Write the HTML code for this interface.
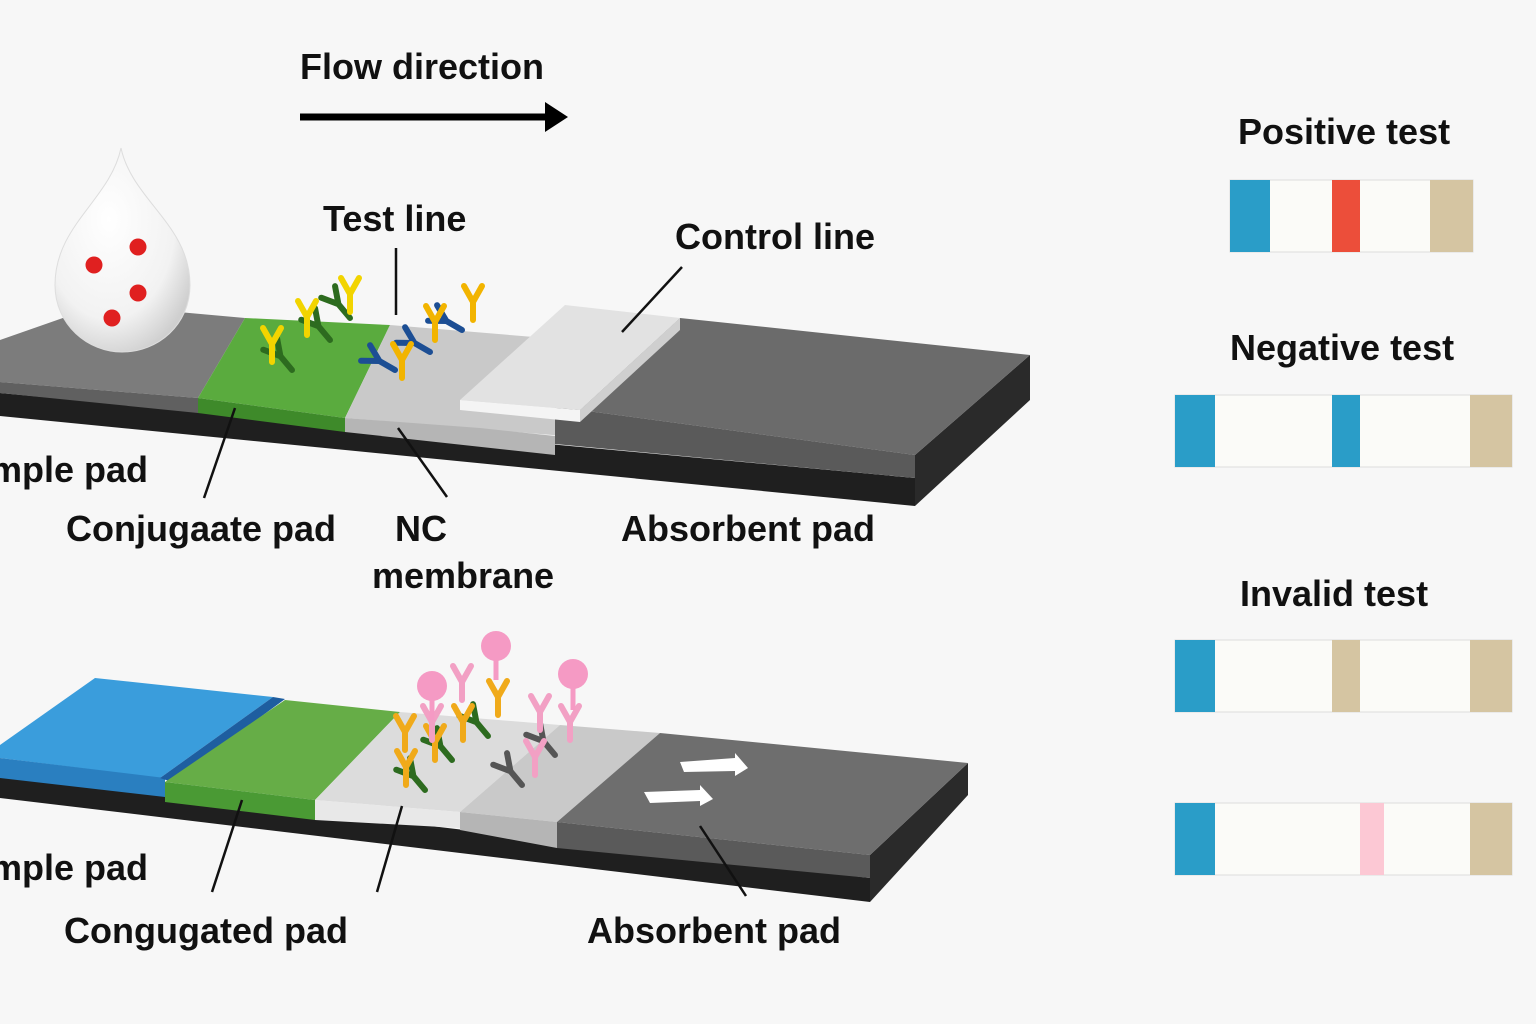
<!DOCTYPE html>
<html><head><meta charset="utf-8"><style>
html,body{margin:0;padding:0;background:#f7f7f7}
svg{display:block}
text{font-family:"Liberation Sans",sans-serif;font-weight:bold;fill:#111}
</style></head><body>
<svg width="1536" height="1024" viewBox="0 0 1536 1024">
<defs>
<radialGradient id="dropg" cx="0.4" cy="0.35" r="0.7"><stop offset="0" stop-color="#ffffff"/><stop offset="0.7" stop-color="#f2f2f2"/><stop offset="1" stop-color="#cfcfcf"/></radialGradient>
<g id="ab"><path d="M0 0 V-18 M0 -18 L-9 -34 M0 -18 L9 -34" fill="none" stroke-width="6" stroke-linecap="round"/></g>
</defs>
<rect width="1536" height="1024" fill="#f7f7f7"/>

<g>
<text x="300" y="79" font-size="36">Flow direction</text>
<line x1="300" y1="117" x2="545" y2="117" stroke="#000" stroke-width="7"/>
<polygon points="545,102 568,117 545,132" fill="#000"/>
</g>

<g>
<polygon points="0,393 915,478 915,506 0,416" fill="#1f1f1f"/>
<polygon points="915,455 1030,355 1030,400 915,506" fill="#2a2a2a"/>
<polygon points="0,340 100,305 245,318 198,398 0,382" fill="#7c7c7c"/>
<polygon points="0,382 198,398 198,413 0,393" fill="#606060"/>
<polygon points="198,398 245,318 390,325 345,418" fill="#5aab3e"/>
<polygon points="198,398 345,418 345,432 198,413" fill="#3e8a2a"/>
<polygon points="345,418 390,325 570,340 565,436" fill="#c9c9c9"/>
<polygon points="345,418 480,428 555,436 555,455 345,432" fill="#b5b5b5"/>
<polygon points="580,410 680,318 1030,355 915,455" fill="#6b6b6b"/>
<polygon points="555,407 580,410 915,455 915,478 555,444" fill="#5a5a5a"/>
<polygon points="460,400 565,305 680,318 580,410" fill="#e2e2e2"/>
<polygon points="460,400 580,410 580,422 460,410" fill="#f4f4f4"/>
<polygon points="580,410 680,318 680,330 580,422" fill="#cfcfcf"/>
</g>

<g>
<path d="M121 148 C110 200 55 225 55 285 C55 325 88 352 122 352 C158 352 190 325 190 285 C190 225 132 200 121 148 Z" fill="url(#dropg)" stroke="#ddd"/>
<circle cx="138" cy="247" r="8.5" fill="#e02020"/><circle cx="94" cy="265" r="8.5" fill="#e02020"/>
<circle cx="138" cy="293" r="8.5" fill="#e02020"/><circle cx="112" cy="318" r="8.5" fill="#e02020"/>
</g>

<g>
<g stroke="#2d6b1f"><use href="#ab" transform="translate(292,370) rotate(-40)"/><use href="#ab" transform="translate(330,340) rotate(-40)"/><use href="#ab" transform="translate(350,318) rotate(-40)"/></g>
<g stroke="#f2d400"><use href="#ab" transform="translate(272,362)"/><use href="#ab" transform="translate(307,335)"/><use href="#ab" transform="translate(350,312)"/></g>
<g stroke="#1c4e94"><use href="#ab" transform="translate(395,370) rotate(-60)"/><use href="#ab" transform="translate(430,352) rotate(-60)"/><use href="#ab" transform="translate(462,330) rotate(-60)"/></g>
<g stroke="#f2b400"><use href="#ab" transform="translate(402,378)"/><use href="#ab" transform="translate(435,340)"/><use href="#ab" transform="translate(473,320)"/></g>
</g>

<g stroke="#111" stroke-width="2.5">
<line x1="396" y1="248" x2="396" y2="315"/><line x1="682" y1="267" x2="622" y2="332"/>
<line x1="235" y1="408" x2="204" y2="498"/><line x1="398" y1="428" x2="447" y2="497"/>
</g>
<text x="-10" y="482" font-size="36">mple pad</text>
<text x="323" y="231" font-size="36">Test line</text>
<text x="675" y="249" font-size="36">Control line</text>
<text x="66" y="541" font-size="36">Conjugaate pad</text>
<text x="395" y="541" font-size="36">NC</text>
<text x="372" y="588" font-size="36">membrane</text>
<text x="621" y="541" font-size="36">Absorbent pad</text>

<g>
<polygon points="0,775 870,878 870,902 0,798" fill="#1f1f1f"/>
<polygon points="870,855 968,763 968,795 870,902" fill="#2a2a2a"/>
<polygon points="0,745 95,678 273,697 160,778 0,758" fill="#3a9ddc"/>
<polygon points="0,758 165,778 165,797 0,778" fill="#2a7fc0"/>
<polygon points="160,778 273,697 285,699 172,782" fill="#1e5ea0"/>
<polygon points="165,782 285,700 400,712 315,800" fill="#66ad47"/>
<polygon points="165,782 315,800 315,820 165,802" fill="#4a9a34"/>
<polygon points="315,800 400,712 560,725 460,812" fill="#dcdcdc"/>
<polygon points="315,800 460,812 460,828 315,820" fill="#e8e8e8"/>
<polygon points="460,812 560,725 660,733 557,822" fill="#c9c9c9"/>
<polygon points="460,812 557,822 557,848 460,830" fill="#b5b5b5"/>
<polygon points="557,822 660,733 968,763 870,855" fill="#6e6e6e"/>
<polygon points="557,822 870,855 870,878 557,848" fill="#5a5a5a"/>
<polygon points="680,762 735,758 735,753 748,768 735,776 735,771 684,772" fill="#fff"/>
<polygon points="644,792 700,790 700,785 713,799 700,806 700,801 650,803" fill="#fff"/>
</g>

<g>
<g stroke="#2d6b1f"><use href="#ab" transform="translate(425,790) rotate(-40)"/><use href="#ab" transform="translate(452,760) rotate(-40)"/><use href="#ab" transform="translate(488,736) rotate(-40)"/></g>
<g stroke="#555"><use href="#ab" transform="translate(522,785) rotate(-40)"/><use href="#ab" transform="translate(555,755) rotate(-40)"/></g>
<g stroke="#f0aa1a"><use href="#ab" transform="translate(406,785)"/><use href="#ab" transform="translate(405,750)"/><use href="#ab" transform="translate(435,760)"/><use href="#ab" transform="translate(463,740)"/><use href="#ab" transform="translate(498,715)"/></g>
<g stroke="#f2a0c4"><use href="#ab" transform="translate(432,740)"/><use href="#ab" transform="translate(462,700)"/><use href="#ab" transform="translate(535,775)"/><use href="#ab" transform="translate(540,730)"/><use href="#ab" transform="translate(570,740)"/></g>
<g fill="#f59ac4"><circle cx="432" cy="686" r="15"/><circle cx="496" cy="646" r="15"/><circle cx="573" cy="674" r="15"/></g>
<g stroke="#f59ac4" stroke-width="5"><line x1="432" y1="700" x2="432" y2="720"/><line x1="496" y1="660" x2="496" y2="680"/><line x1="573" y1="688" x2="573" y2="710"/></g>
</g>

<g stroke="#111" stroke-width="2.5">
<line x1="242" y1="800" x2="212" y2="892"/><line x1="402" y1="806" x2="377" y2="892"/><line x1="700" y1="826" x2="746" y2="896"/>
</g>
<text x="-10" y="880" font-size="36">mple pad</text>
<text x="64" y="943" font-size="36">Congugated pad</text>
<text x="587" y="943" font-size="36">Absorbent pad</text>

<g>
<text x="1238" y="144" font-size="36">Positive test</text>
<rect x="1230" y="180" width="243" height="72" fill="#fbfbf8" stroke="#ddd"/>
<rect x="1230" y="180" width="40" height="72" fill="#2a9dc8"/>
<rect x="1332" y="180" width="28" height="72" fill="#ec4e3a"/>
<rect x="1430" y="180" width="43" height="72" fill="#d5c5a2"/>
</g>
<g>
<text x="1230" y="360" font-size="36">Negative test</text>
<rect x="1175" y="395" width="337" height="72" fill="#fbfbf8" stroke="#ddd"/>
<rect x="1175" y="395" width="40" height="72" fill="#2a9dc8"/>
<rect x="1332" y="395" width="28" height="72" fill="#2a9dc8"/>
<rect x="1470" y="395" width="42" height="72" fill="#d5c5a2"/>
</g>
<g>
<text x="1240" y="606" font-size="36">Invalid test</text>
<rect x="1175" y="640" width="337" height="72" fill="#fbfbf8" stroke="#ddd"/>
<rect x="1175" y="640" width="40" height="72" fill="#2a9dc8"/>
<rect x="1332" y="640" width="28" height="72" fill="#d5c5a2"/>
<rect x="1470" y="640" width="42" height="72" fill="#d5c5a2"/>
</g>
<g>
<rect x="1175" y="803" width="337" height="72" fill="#fbfbf8" stroke="#ddd"/>
<rect x="1175" y="803" width="40" height="72" fill="#2a9dc8"/>
<rect x="1360" y="803" width="24" height="72" fill="#fcc8d4"/>
<rect x="1470" y="803" width="42" height="72" fill="#d5c5a2"/>
</g>
</svg>
</body></html>
